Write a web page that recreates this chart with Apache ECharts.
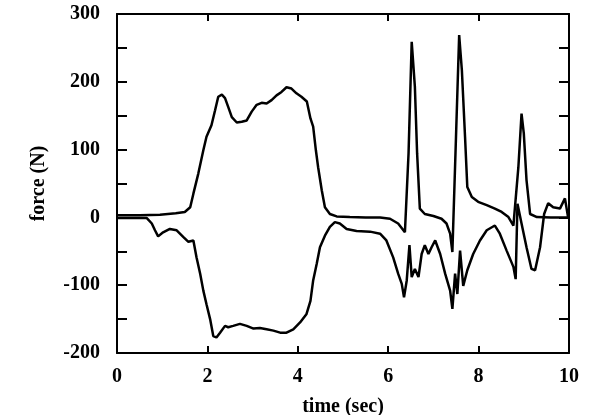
<!DOCTYPE html>
<html>
<head>
<meta charset="utf-8">
<script src="https://cdn.jsdelivr.net/npm/echarts@6/dist/echarts.min.js"></script>
<style>
  html, body { margin: 0; padding: 0; background: #fff; }
  #chart { width: 591px; height: 415px; }
</style>
</head>
<body>
<div id="chart"></div>
<script>
// traces (time in sec, force in N)
let upperTime = [0, 0.5, 0.95, 1.3, 1.5, 1.62, 1.69, 1.8, 1.91, 1.98, 2.09, 2.17, 2.24, 2.32, 2.39, 2.46, 2.54, 2.65, 2.76, 2.87, 2.98, 3.09, 3.2, 3.31, 3.42, 3.53, 3.64, 3.75, 3.86, 3.97, 4.08, 4.2, 4.28, 4.34, 4.4, 4.45, 4.53, 4.6, 4.71, 4.86, 5.15, 5.5, 5.82, 6.04, 6.22, 6.37, 6.45, 6.52, 6.59, 6.64, 6.7, 6.81, 7.0, 7.18, 7.29, 7.37, 7.42, 7.5, 7.57, 7.63, 7.7, 7.75, 7.85, 7.99, 8.18, 8.36, 8.51, 8.66, 8.77, 8.88, 8.95, 9.0, 9.06, 9.14, 9.29, 9.6, 10]
let upperForce = [3, 3, 4, 6, 8, 15, 35, 65, 99, 119, 136, 158, 178, 181, 176, 163, 148, 140, 141, 143, 156, 166, 169, 168, 173, 180, 185, 192, 190, 183, 178, 171, 146, 134, 99, 74, 40, 15, 5, 1.5, 0.5, 0, 0, -2, -9, -22, 94, 259, 193, 94, 13, 5, 2, -2, -9, -24, -51, 119, 269, 217, 119, 45, 30, 23, 18, 13, 8, 0.5, -12, 74, 153, 124, 55, 5, 0.5, 0, 0]

let lowerTime = [0, 0.4, 0.66, 0.77, 0.84, 0.91, 1.02, 1.17, 1.32, 1.47, 1.58, 1.69, 1.76, 1.84, 1.91, 1.98, 2.06, 2.13, 2.2, 2.28, 2.39, 2.46, 2.57, 2.72, 2.87, 3.02, 3.16, 3.31, 3.46, 3.61, 3.75, 3.9, 4.05, 4.19, 4.28, 4.34, 4.42, 4.49, 4.6, 4.71, 4.82, 4.93, 5.08, 5.3, 5.6, 5.82, 5.96, 6.11, 6.22, 6.3, 6.35, 6.41, 6.47, 6.52, 6.59, 6.67, 6.74, 6.81, 6.89, 6.96, 7.04, 7.15, 7.26, 7.37, 7.42, 7.48, 7.53, 7.59, 7.66, 7.75, 7.88, 8.03, 8.18, 8.36, 8.47, 8.62, 8.77, 8.82, 8.86, 8.95, 9.06, 9.17, 9.25, 9.36, 9.45, 9.54, 9.65, 9.8, 9.91, 9.98]
let lowerForce = [-1, -1, -1, -9, -19, -28, -22, -17, -19, -29, -36, -34, -59, -83, -108, -128, -150, -175, -177, -170, -160, -162, -160, -157, -160, -164, -163, -165, -167, -170, -170, -165, -155, -143, -123, -93, -68, -44, -27, -14, -7, -9, -17, -20, -21, -24, -34, -59, -83, -98, -118, -93, -41, -88, -76, -88, -54, -41, -54, -44, -34, -54, -83, -108, -135, -83, -113, -49, -101, -78, -54, -34, -19, -12, -24, -49, -73, -91, 20, -9, -44, -76, -78, -44, 5, 21, 15, 13, 28, 0]

let xTicks = { min: 0, max: 10, interval: 2 }
let yTicks = { min: -200, max: 300, interval: 50 }

let font = 'Liberation Serif'
let ink = '#000'

function pairs(xs, ys) {
  let out = []
  for (let i = 0; i < xs.length; i++) {
    out.push([xs[i], ys[i]])
  }
  return out
}

let chart = echarts.init(document.getElementById('chart'))

let axisLine = { show: true, onZero: false, lineStyle: { color: ink, width: 2 } }
let labelStyle = { color: ink, fontFamily: font, fontSize: 20, fontWeight: 'bold' }

chart.setOption({
  animation: false,
  backgroundColor: '#fff',
  grid: {
    left: 117,
    right: 22,
    top: 14,
    bottom: 62,
    outerBoundsMode: 'none'
  },
  xAxis: [
    {
      type: 'value',
      min: xTicks.min,
      max: xTicks.max,
      interval: xTicks.interval,
      position: 'bottom',
      axisLine: axisLine,
      axisTick: { inside: true, length: 7, lineStyle: { color: ink, width: 2 } },
      axisLabel: Object.assign({ margin: 14 }, labelStyle),
      splitLine: { show: false },
      name: 'time (sec)',
      nameLocation: 'middle',
      nameGap: 44,
      nameTextStyle: labelStyle
    },
    {
      type: 'value',
      min: xTicks.min,
      max: xTicks.max,
      interval: xTicks.interval,
      position: 'top',
      axisLine: axisLine,
      axisTick: { inside: true, length: 7, lineStyle: { color: ink, width: 2 } },
      axisLabel: { show: false },
      splitLine: { show: false }
    }
  ],
  yAxis: [
    {
      type: 'value',
      min: yTicks.min,
      max: yTicks.max,
      interval: yTicks.interval,
      position: 'left',
      axisLine: axisLine,
      axisTick: { inside: true, length: 10, lineStyle: { color: ink, width: 2 } },
      axisLabel: Object.assign({
        margin: 17,
        formatter: function (v) { return v % 100 === 0 ? String(v) : '' }
      }, labelStyle),
      splitLine: { show: false },
      name: 'force (N)',
      nameLocation: 'middle',
      nameGap: 68,
      nameRotate: 90,
      nameTextStyle: labelStyle
    },
    {
      type: 'value',
      min: yTicks.min,
      max: yTicks.max,
      interval: yTicks.interval,
      position: 'right',
      axisLine: axisLine,
      axisTick: { inside: true, length: 10, lineStyle: { color: ink, width: 2 } },
      axisLabel: { show: false },
      splitLine: { show: false }
    }
  ],
  series: [
    {
      type: 'line',
      data: pairs(upperTime, upperForce),
      showSymbol: false,
      lineStyle: { color: ink, width: 2.5 }
    },
    {
      type: 'line',
      data: pairs(lowerTime, lowerForce),
      showSymbol: false,
      lineStyle: { color: ink, width: 2.5 }
    }
  ]
})
</script>
</body>
</html>
